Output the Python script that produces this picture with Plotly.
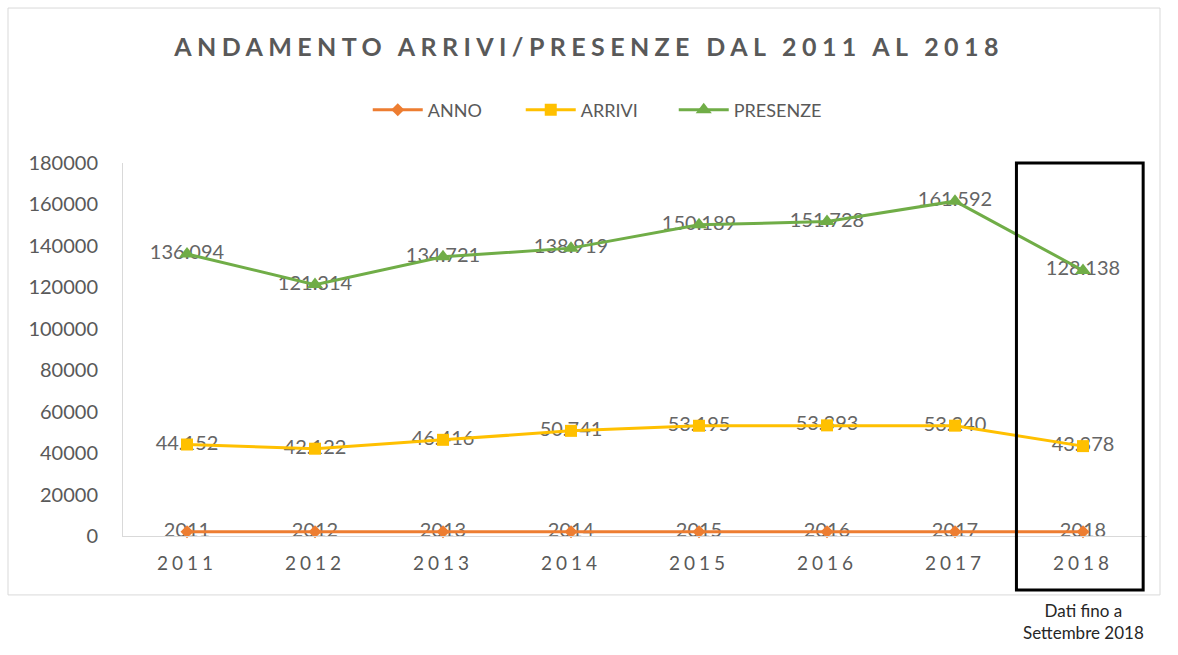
import plotly.graph_objects as go

# Data
years = ["2011", "2012", "2013", "2014", "2015", "2016", "2017", "2018"]
anno = [2011, 2012, 2013, 2014, 2015, 2016, 2017, 2018]
arrivi = [44152, 42122, 46416, 50741, 53195, 53393, 53240, 43378]
presenze = [136094, 121314, 134721, 138919, 150189, 151728, 161592, 128138]
y_ticks = [0, 20000, 40000, 60000, 80000, 100000, 120000, 140000, 160000, 180000]

FONT = "Lato"
GREY = "#595959"
LABEL_GREY = "#656565"


def it_fmt(v):
    # Italian thousands separator
    return f"{v:,}".replace(",", ".")


series = [
    ("ANNO", anno, [str(v) for v in anno], "#ED7D31", "diamond", 10),
    ("ARRIVI", arrivi, [it_fmt(v) for v in arrivi], "#FFC000", "square", 12),
    ("PRESENZE", presenze, [it_fmt(v) for v in presenze], "#70AD47", "triangle-up", 14),
]

fig = go.Figure()

# Value labels first so the markers sit on top of them
for name, vals, labels, color, sym, size in series:
    fig.add_trace(go.Scatter(
        x=years, y=vals, mode="text", text=labels,
        textposition="middle center",
        textfont=dict(family=FONT, size=20, color=LABEL_GREY),
        showlegend=False, hoverinfo="skip", cliponaxis=False,
    ))

for name, vals, labels, color, sym, size in series:
    fig.add_trace(go.Scatter(
        x=years, y=vals, mode="lines+markers", name=name,
        line=dict(color=color, width=3),
        marker=dict(symbol=sym, size=size, color=color),
        cliponaxis=False,
    ))

# Outer chart frame
fig.add_shape(type="rect", xref="paper", yref="paper",
              x0=-0.1123, x1=1.0127, y0=-0.158, y1=1.4155,
              line=dict(color="#D9D9D9", width=1), layer="below")

# Highlight box around the partial year
fig.add_shape(type="rect", xref="x", yref="paper",
              x0=6.48, x1=7.47, y0=-0.145, y1=1.0,
              line=dict(color="black", width=3))

fig.add_annotation(
    xref="x", yref="paper", x=7, y=-0.23,
    text="Dati fino a<br>Settembre 2018", showarrow=False,
    font=dict(family=FONT, size=17, color="#262626"),
    align="center", yanchor="middle",
)

fig.update_layout(
    width=1178, height=655,
    paper_bgcolor="white", plot_bgcolor="white",
    margin=dict(l=123, r=31, t=163, b=119),
    title=dict(
        text="<b>ANDAMENTO ARRIVI/PRESENZE DAL 2011 AL 2018</b>",
        x=0.5, xanchor="center", xref="container",
        y=1 - 47 / 655, yanchor="middle", yref="container",
        font=dict(family=FONT, size=25, color=GREY),
    ),
    legend=dict(
        orientation="h", xref="container", yref="container",
        x=0.507, xanchor="center", y=1 - 110 / 655, yanchor="middle",
        font=dict(family=FONT, size=18, color=GREY),
        itemwidth=50, entrywidth=88, entrywidthmode="pixels",
        traceorder="normal",
    ),
    showlegend=True,
    xaxis=dict(
        type="category", showgrid=False, zeroline=False,
        showline=True, linecolor="#D9D9D9", linewidth=1,
        ticks="", ticklabelstandoff=10,
        tickfont=dict(family=FONT, size=19, color=GREY),
        range=[-0.5, 7.5],
    ),
    yaxis=dict(
        range=[0, 180000], tickvals=y_ticks,
        ticktext=[str(v) for v in y_ticks],
        showgrid=False, zeroline=False,
        showline=True, linecolor="#D9D9D9", linewidth=1,
        ticks="", ticklabelstandoff=20,
        tickfont=dict(family=FONT, size=20, color=GREY),
    ),
    hovermode=False,
)

spacing_js = """
var gd = document.getElementsByClassName('plotly-graph-div')[0];
function spaceText() {
  gd.querySelectorAll('.gtitle').forEach(function(t){ t.style.letterSpacing = '5.4px'; });
  gd.querySelectorAll('.xtick text').forEach(function(t){ t.style.letterSpacing = '4px'; });
}
spaceText();
gd.on('plotly_afterplot', spaceText);
"""

fig.write_html("out.html", post_script=spacing_js)
